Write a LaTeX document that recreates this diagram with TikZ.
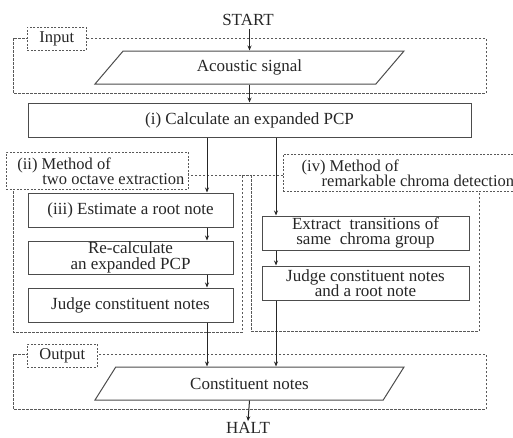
\documentclass[tikz,border=0pt]{standalone}
\usepackage{fontspec}
\setmainfont{Liberation Serif}
\usetikzlibrary{shapes.geometric,arrows.meta}
\begin{document}
\begin{tikzpicture}[x=1pt,y=-1pt,
  every node/.style={font=\fontsize{17}{15.5}\selectfont, text=black!85},
  proc/.style={draw=black!70, line width=1pt, minimum width=205pt, inner sep=0pt, align=center},
  io/.style={draw=black!70, line width=1pt, trapezium, trapezium left angle=28.8, trapezium right angle=151.2,
     trapezium stretches body, minimum width=309pt, minimum height=33pt, inner sep=0pt},
  region/.style={draw=black!65, line width=0.8pt, dash pattern=on 2.5pt off 1.5pt},
  lab/.style={draw=black!65, line width=0.8pt, dash pattern=on 2pt off 1.5pt, fill=white, inner sep=0pt, anchor=north west},
  labtext/.style={font=\fontsize{16.5}{15}\selectfont},
  arr/.style={draw=black!85, line width=1pt, -{Stealth[length=5pt,width=4pt]}}
]
\useasboundingbox (0,0) rectangle (513,437);
% regions
\draw[region] (13,38) rectangle (486,93);
\draw[region] (13,175) rectangle (242,332);
\draw[region] (251,175) rectangle (479,331);
\draw[region] (242,175) -- (251,175);
\draw[region] (13,354) rectangle (486,409);
% labels
\node[lab, labtext, minimum width=59pt, minimum height=23pt, align=center] (inlab) at (27,27) {Input};
\node[lab, labtext, minimum width=182pt, minimum height=37pt, align=left] (iilab) at (6,152) {\hspace{7pt}(ii) Method of\\\hspace{32pt}two octave extraction};
\node[lab, labtext, minimum width=240pt, minimum height=37pt, align=left] (ivlab) at (283,154) {\hspace{9pt}(iv) Method of\\\hspace{29pt}remarkable chroma detection};
\node[lab, labtext, minimum width=70pt, minimum height=23pt, align=center] (outlab) at (27,344) {Output};
% nodes
\node (start) at (248,20) {START};
\node[io] (acoustic) at (249.5,67.5) {Acoustic signal};
\node[proc, minimum width=443pt, minimum height=34pt] (calc) at (249.5,120) {(i) Calculate an expanded PCP};
\node[proc, minimum height=34pt] (est) at (130.5,210) {(iii) Estimate a root note};
\node[proc, minimum height=33pt] (recalc) at (130.5,257.5) {Re-calculate\\an expanded PCP};
\node[proc, minimum height=34pt] (judge) at (130.5,305) {Judge constituent notes};
\node[proc, minimum width=207pt, minimum height=34pt] (extract) at (365.5,233) {Extract\ \ transitions of\\same\ \ chroma group};
\node[proc, minimum width=207pt, minimum height=34pt] (judge2) at (365.5,283) {Judge constituent notes\\and a root note};
\node[io] (constit) at (249.5,383.5) {Constituent notes};
\node[inner sep=1pt] (halt) at (248,428) {HALT};
\coordinate (colL) at (207,0);
\coordinate (colR) at (276,0);
% arrows
\draw[arr] (start.south -| acoustic.north) -- (acoustic.north);
\draw[arr] (acoustic.south) -- (calc.north -| acoustic.south);
\draw[arr] (calc.south -| colL) -- (est.north -| colL);
\draw[arr] (est.south -| colL) -- (recalc.north -| colL);
\draw[arr] (recalc.south -| colL) -- (judge.north -| colL);
\draw[arr] (judge.south -| colL) -- (constit.north -| colL);
\draw[arr] (calc.south -| colR) -- (extract.north -| colR);
\draw[arr] (extract.south -| colR) -- (judge2.north -| colR);
\draw[arr] (judge2.south -| colR) -- (constit.north -| colR);
\draw[arr] (constit.south) -- (halt.north);
\end{tikzpicture}
\end{document}
